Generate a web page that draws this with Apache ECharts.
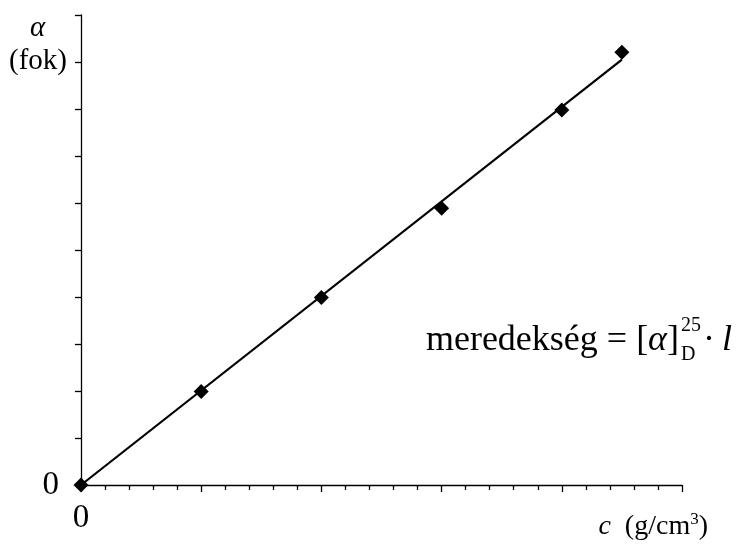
<!DOCTYPE html>
<html>
<head>
<meta charset="utf-8">
<script src="https://cdn.jsdelivr.net/npm/echarts@6/dist/echarts.min.js"></script>
<style>
html,body{margin:0;padding:0;background:#fff;}
#chart{width:742px;height:545px;}
</style>
</head>
<body>
<div id="chart"></div>
<script>
// Data
const concentrations = [0, 1, 2, 3, 4, 4.5];
const rotations = [0, 1.99, 3.99, 5.89, 7.98, 9.21];
const fitX = [0, 4.5];
const fitY = [0, 9.05];
const xTickLabels = ['0'];
const yTickLabels = ['0'];

const FONT = "'Liberation Serif', 'Times New Roman', serif";
const chart = echarts.init(document.getElementById('chart'));

const pointData = concentrations.map((c, i) => [c, rotations[i]]);
const fitData = fitX.map((x, i) => [x, fitY[i]]);

chart.setOption({
  animation: false,
  backgroundColor: '#ffffff',
  grid: { left: 81, top: 15, width: 601, height: 470, containLabel: false },
  xAxis: {
    type: 'value', min: 0, max: 5, interval: 1,
    axisLine: { lineStyle: { color: '#000', width: 1.3 } },
    axisTick: { show: true, length: 7, lineStyle: { color: '#000', width: 1.3 } },
    minorTick: { show: true, splitNumber: 5, length: 5, lineStyle: { color: '#000', width: 1.3 } },
    splitLine: { show: false },
    axisLabel: {
      show: true, margin: 17, color: '#000', fontSize: 33, fontFamily: FONT,
      formatter: v => (v === 0 ? xTickLabels[0] : '')
    }
  },
  yAxis: {
    type: 'value', min: 0, max: 10, interval: 1,
    axisLine: { show: true, lineStyle: { color: '#000', width: 1.3 } },
    axisTick: { show: true, length: 6, lineStyle: { color: '#000', width: 1.3 } },
    splitLine: { show: false },
    axisLabel: {
      show: true, margin: 22, color: '#000', fontSize: 33, fontFamily: FONT,
      formatter: v => (v === 0 ? yTickLabels[0] : '')
    }
  },
  series: [
    {
      type: 'line', data: fitData, symbol: 'none', silent: true,
      lineStyle: { color: '#000', width: 2.2 }, z: 2
    },
    {
      type: 'scatter', data: pointData, symbol: 'diamond', symbolSize: 15,
      itemStyle: { color: '#000', opacity: 1 }, z: 3
    }
  ],
  graphic: [
    { type: 'text', left: 30, top: 14, style: { text: 'α', font: 'italic 29px ' + FONT, fill: '#000' } },
    { type: 'text', left: 9, top: 47, style: { text: '(fok)', font: '29px ' + FONT, fill: '#000' } },
    {
      type: 'text', right: 34, top: 511,
      style: {
        text: '{i|c}  (g/cm{s|3})',
        font: '28px ' + FONT, fill: '#000',
        rich: {
          i: { font: 'italic 28px ' + FONT, fill: '#000' },
          s: { font: '17px ' + FONT, fill: '#000', verticalAlign: 'top', padding: [0, 0, 14, 0] }
        }
      }
    },
    {
      type: 'text', x: 679, y: 341,
      style: {
        text: 'meredekség = [{a|α}]', align: 'right', verticalAlign: 'middle',
        font: '36px ' + FONT, fill: '#000',
        rich: { a: { font: 'italic 36px ' + FONT, fill: '#000' } }
      }
    },
    { type: 'text', x: 681, y: 326, style: { text: '25', align: 'left', verticalAlign: 'middle', font: '20px ' + FONT, fill: '#000' } },
    { type: 'text', x: 681, y: 355, style: { text: 'D', align: 'left', verticalAlign: 'middle', font: '20px ' + FONT, fill: '#000' } },
    { type: 'text', x: 709, y: 341, style: { text: '·', align: 'center', verticalAlign: 'middle', font: '36px ' + FONT, fill: '#000' } },
    { type: 'text', x: 722, y: 341, style: { text: 'l', align: 'left', verticalAlign: 'middle', font: 'italic 36px ' + FONT, fill: '#000' } }
  ]
});
</script>
</body>
</html>
